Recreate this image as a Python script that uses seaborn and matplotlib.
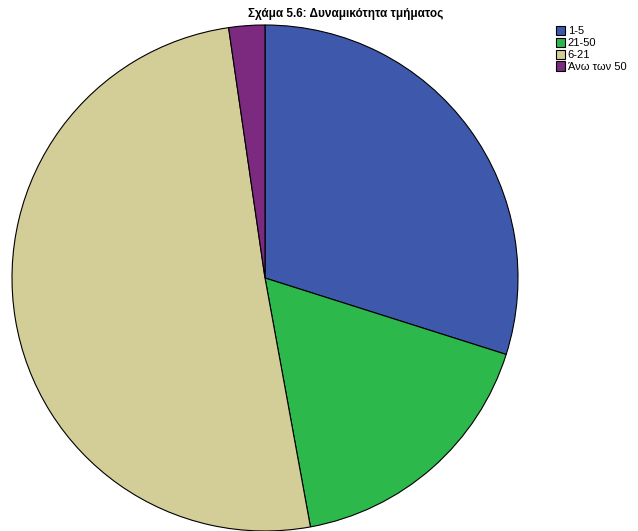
import matplotlib
matplotlib.use("Agg")
import matplotlib.pyplot as plt
import seaborn as sns
from matplotlib.patches import Patch

sns.set_theme(style="white")
plt.rcParams['font.family'] = ['Liberation Sans', 'DejaVu Sans']

categories = ["1-5", "21-50", "6-21", "Άνω των 50"]
counts = [26, 15, 44, 2]
colors = ["#3e58ac", "#2db84b", "#d3ce97", "#7b2a7f"]
title = "Σχάμα 5.6: Δυναμικότητα τμήματος"

fig = plt.figure(figsize=(6.38, 5.31), dpi=100)
ax = fig.add_axes([12/638, 0.0, 506/638, 506/531])
ax.pie(counts, colors=colors, startangle=90, counterclock=False,
       wedgeprops=dict(edgecolor="black", linewidth=0.8))
ax.set_aspect("equal")
ax.set_xlim(-1.0, 1.0)
ax.set_ylim(-1.0, 1.0)
ax.axis("off")

fig.text(346/638, 1 - 14/531, title, ha="center", va="center",
         fontsize=8.5, fontweight="bold", color="black")

handles = [Patch(facecolor=c, edgecolor="black", linewidth=0.8) for c in colors]
fig.legend(handles, categories, loc="upper left",
           bbox_to_anchor=(556/638, 1 - 26/531), frameon=False,
           fontsize=8, handlelength=0.85, handleheight=0.9,
           handletextpad=0.2, labelspacing=0.12, borderaxespad=0, borderpad=0,
           labelcolor="black")

fig.savefig("out.png", dpi=100)
